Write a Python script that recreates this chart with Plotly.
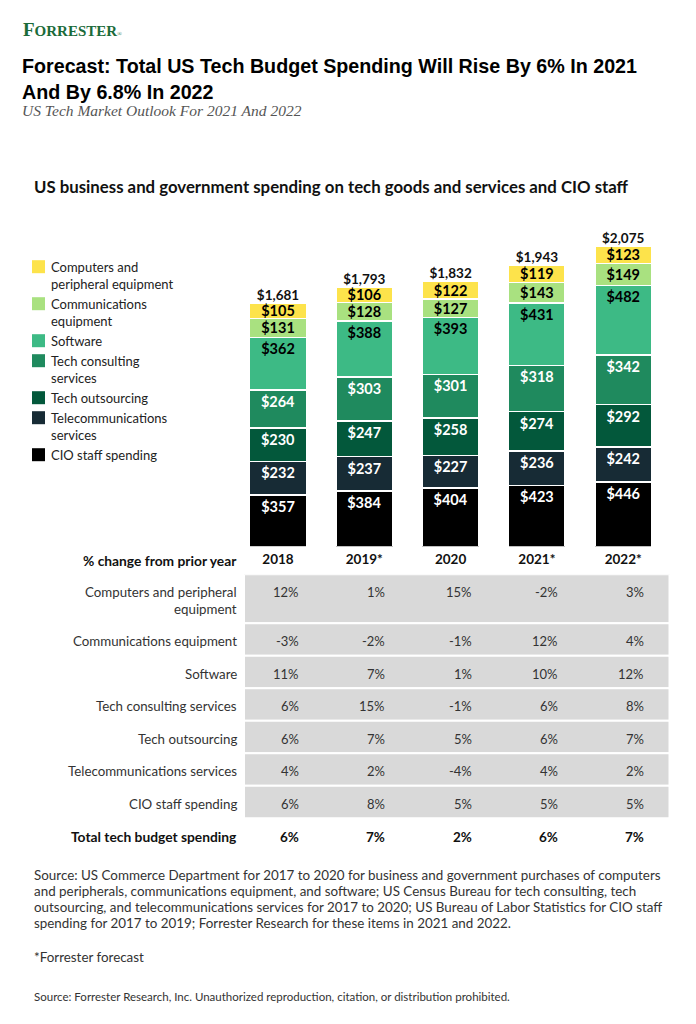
import plotly.graph_objects as go

# page body has an 8px margin; the figure fills the rest of the 696x1024 window
OFF = 8
W, H = 696 - 2 * OFF, 1024 - 2 * OFF

# ---------------- data ----------------
years = ["2018", "2019*", "2020", "2021*", "2022*"]

cio_staff = [357, 384, 404, 423, 446]
telecom_services = [232, 237, 227, 236, 242]
tech_outsourcing = [230, 247, 258, 274, 292]
tech_consulting = [264, 303, 301, 318, 342]
software = [362, 388, 393, 431, 482]
comms_equipment = [131, 128, 127, 143, 149]
computers_equipment = [105, 106, 122, 119, 123]
totals = [1681, 1793, 1832, 1943, 2075]

legend_names = [
    "Computers and<br>peripheral equipment",
    "Communications<br>equipment",
    "Software",
    "Tech consulting<br>services",
    "Tech outsourcing",
    "Telecommunications<br>services",
    "CIO staff spending",
]

row_labels = [
    "Computers and peripheral<br>equipment",
    "Communications equipment",
    "Software",
    "Tech consulting services",
    "Tech outsourcing",
    "Telecommunications services",
    "CIO staff spending",
]
chg_computers = [12, 1, 15, -2, 3]
chg_comms = [-3, -2, -1, 12, 4]
chg_software = [11, 7, 1, 10, 12]
chg_consulting = [6, 15, -1, 6, 8]
chg_outsourcing = [6, 7, 5, 6, 7]
chg_telecom = [4, 2, -4, 4, 2]
chg_cio = [6, 8, 5, 5, 5]
chg_total = [6, 7, 2, 6, 7]

source_lines = [
    "Source: US Commerce Department for 2017 to 2020 for business and government purchases of computers",
    "and peripherals, communications equipment, and software; US Census Bureau for tech consulting, tech",
    "outsourcing, and telecommunications services for 2017 to 2020; US Bureau of Labor Statistics for CIO staff",
    "spending for 2017 to 2019; Forrester Research for these items in 2021 and 2022.",
]

# ---------------- styles ----------------
C_CIO = "#000000"
C_TEL = "#172B35"
C_OUT = "#03583B"
C_CON = "#1F8A5E"
C_SOF = "#3DBA85"
C_COM = "#A9E180"
C_CPU = "#FDE34B"

FONT = "Lato"


def py(p):
    return 1 - (p - OFF) / H


def px(p):
    return (p - OFF) / W


stack = [
    (cio_staff, C_CIO, "white", "end"),
    (telecom_services, C_TEL, "white", "end"),
    (tech_outsourcing, C_OUT, "white", "end"),
    (tech_consulting, C_CON, "white", "end"),
    (software, C_SOF, "black", "end"),
    (comms_equipment, C_COM, "black", "middle"),
    (computers_equipment, C_CPU, "black", "middle"),
]

fig = go.Figure()
for vals, col, tcol, anchor in stack:
    fig.add_trace(go.Bar(
        x=years, y=vals,
        marker=dict(color=col, line=dict(color="white", width=1.5)),
        text=[f"${v:,}" for v in vals],
        textposition="inside", insidetextanchor=anchor,
        textangle=0, constraintext="none",
        textfont=dict(family=FONT, size=14.5, color=tcol, weight="bold"),
        hoverinfo="skip", showlegend=False,
    ))

fig.add_trace(go.Scatter(
    x=years, y=totals, mode="text",
    text=[f"${t:,}" for t in totals],
    textposition="top center",
    textfont=dict(family=FONT, size=13.5, color="#111111", weight="bold"),
    cliponaxis=False, hoverinfo="skip", showlegend=False,
))

# geometry (window pixels)
BAR_BOTTOM = 546.7
PX_PER_UNIT = 0.1449
PLOT_TOP = 200
CAT_W = 86.3
FIRST_CENTER = 278.0
x0_dom = FIRST_CENTER - CAT_W / 2
x1_dom = x0_dom + CAT_W * len(years)

TABLE_TOP = 574.3
TABLE_BOTTOM = 850.0

annotations = []
shapes = []

# ---------------- header texts ----------------
annotations.append(dict(
    x=px(21), y=py(29.5), xref="paper", yref="paper", xanchor="left", yanchor="middle",
    text="<b>F<span style='font-size:15px'>ORRESTER</span></b><span style='font-size:6px'>®</span>",
    font=dict(family="Liberation Serif", size=19, color="#1B6B3A"), showarrow=False))
annotations.append(dict(
    x=px(20), y=py(79.5), xref="paper", yref="paper", xanchor="left", yanchor="middle",
    text="Forecast: Total US Tech Budget Spending Will Rise By 6% In 2021<br>And By 6.8% In 2022",
    align="left",
    font=dict(family="Liberation Sans", size=19.7, color="#000000", weight="bold"), showarrow=False))
annotations.append(dict(
    x=px(20), y=py(110.5), xref="paper", yref="paper", xanchor="left", yanchor="middle",
    text="<i>US Tech Market Outlook For 2021 And 2022</i>",
    font=dict(family="Liberation Serif", size=15.5, color="#555555"), showarrow=False))
annotations.append(dict(
    x=px(32), y=py(186), xref="paper", yref="paper", xanchor="left", yanchor="middle",
    text="US business and government spending on tech goods and services and CIO staff",
    font=dict(family=FONT, size=16.8, color="#111111", weight="bold"), showarrow=False))

# ---------------- legend (manual) ----------------
leg_colors = [C_CPU, C_COM, C_SOF, C_CON, C_OUT, C_TEL, C_CIO]
LH = 16.9
y_line = 266.7
for name, col in zip(legend_names, leg_colors):
    n = name.count("<br>") + 1
    shapes.append(dict(type="rect", xref="paper", yref="paper",
                       x0=px(32), x1=px(45), y0=py(y_line - 6.5), y1=py(y_line + 6.5),
                       fillcolor=col, line=dict(width=0)))
    annotations.append(dict(
        x=px(49), y=py(y_line + (n - 1) * LH / 2), xref="paper", yref="paper",
        xanchor="left", yanchor="middle", align="left", text=name,
        font=dict(family=FONT, size=13, color="#222222"), showarrow=False))
    y_line += 20 + 17 * (n - 1)

# ---------------- table ----------------
annotations.append(dict(
    x=px(239), y=py(560.7), xref="paper", yref="paper", xanchor="right", yanchor="middle",
    text="% change from prior year",
    font=dict(family=FONT, size=13.8, color="#111111", weight="bold"), showarrow=False))

rows = [chg_computers, chg_comms, chg_software, chg_consulting,
        chg_outsourcing, chg_telecom, chg_cio]
top = 0.0
for label, vals in zip(row_labels, rows):
    n = label.count("<br>") + 1
    h = 16.5 * n + 16
    shapes.append(dict(type="rect", xref="paper", yref="y2",
                       x0=px(244), x1=px(669.5), y0=top, y1=top + h,
                       fillcolor="#D9D9D9", line=dict(color="white", width=2),
                       layer="below"))
    first = top + 18
    annotations.append(dict(
        x=px(239), y=first + (n - 1) * LH / 2, xref="paper", yref="y2",
        xanchor="right", yanchor="middle", align="right", text=label,
        font=dict(family=FONT, size=13.3, color="#333333"), showarrow=False))
    for i, v in enumerate(vals):
        annotations.append(dict(
            x=i, y=first, xref="x", yref="y2", xshift=23,
            xanchor="right", yanchor="middle", text=f"{v}%",
            font=dict(family=FONT, size=13, color="#333333"), showarrow=False))
    top += h

first = top + 18.4
annotations.append(dict(
    x=px(239), y=first, xref="paper", yref="y2",
    xanchor="right", yanchor="middle", text="Total tech budget spending",
    font=dict(family=FONT, size=13.8, color="#111111", weight="bold"), showarrow=False))
for i, v in enumerate(chg_total):
    annotations.append(dict(
        x=i, y=first, xref="x", yref="y2", xshift=23,
        xanchor="right", yanchor="middle", text=f"{v}%",
        font=dict(family=FONT, size=13.5, color="#111111", weight="bold"), showarrow=False))

# ---------------- footnotes ----------------
for k, line in enumerate(source_lines):
    annotations.append(dict(
        x=px(32), y=py(875 + 16.1 * k), xref="paper", yref="paper",
        xanchor="left", yanchor="middle", text=line,
        font=dict(family=FONT, size=13.4, color="#333333"), showarrow=False))
annotations.append(dict(
    x=px(32), y=py(957), xref="paper", yref="paper", xanchor="left", yanchor="middle",
    text="*Forrester forecast", font=dict(family=FONT, size=13.4, color="#333333"), showarrow=False))
annotations.append(dict(
    x=px(32), y=py(996.7), xref="paper", yref="paper", xanchor="left", yanchor="middle",
    text="Source: Forrester Research, Inc. Unauthorized reproduction, citation, or distribution prohibited.",
    font=dict(family=FONT, size=11.5, color="#333333"), showarrow=False))

fig.update_layout(
    width=W, height=H,
    margin=dict(l=0, r=0, t=0, b=0),
    paper_bgcolor="white", plot_bgcolor="white",
    barmode="stack", bargap=0.345,
    showlegend=False,
    xaxis=dict(domain=[px(x0_dom), px(x1_dom)], type="category",
               range=[-0.5, len(years) - 0.5], anchor="y",
               showgrid=False, zeroline=False, showline=False, ticks="",
               tickfont=dict(family=FONT, size=13.5, color="#111111", weight="bold"),
               ticklabelstandoff=3, fixedrange=True),
    yaxis=dict(domain=[py(BAR_BOTTOM), py(PLOT_TOP)],
               range=[0, (BAR_BOTTOM - PLOT_TOP) / PX_PER_UNIT],
               visible=False, fixedrange=True),
    yaxis2=dict(domain=[py(TABLE_BOTTOM), py(TABLE_TOP)],
                range=[TABLE_BOTTOM - TABLE_TOP, 0], anchor="x",
                visible=False, fixedrange=True),
    annotations=annotations,
    shapes=shapes,
)

fig.write_html("out.html")
